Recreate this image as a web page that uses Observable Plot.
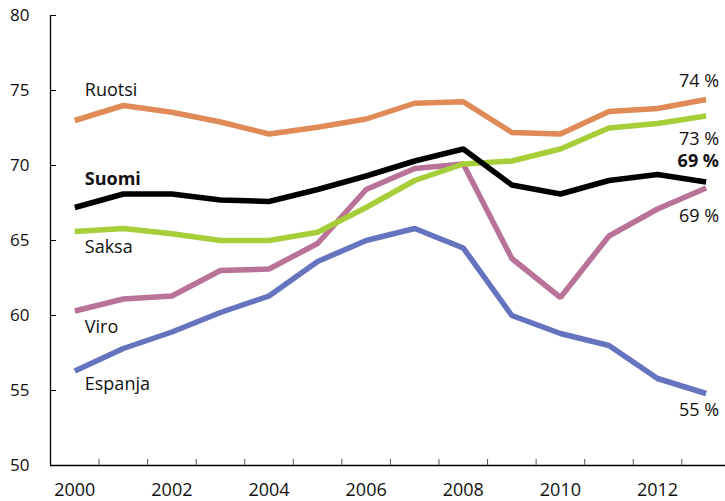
<!DOCTYPE html>
<html>
<head>
<meta charset="utf-8">
<script src="https://cdn.jsdelivr.net/npm/d3@7"></script>
<script src="https://cdn.jsdelivr.net/npm/@observablehq/plot@0.6"></script>
<style>
  html, body { margin: 0; padding: 0; background: #fff; }
  #chart svg { display: block; }
</style>
</head>
<body>
<div id="chart"></div>
<script>
const years = [2000, 2001, 2002, 2003, 2004, 2005, 2006, 2007, 2008, 2009, 2010, 2011, 2012, 2013];
const seriesNames = ["Espanja", "Viro", "Saksa", "Ruotsi", "Suomi"];
const ruotsi  = [73.0, 74.0, 73.55, 72.9, 72.1, 72.55, 73.1, 74.15, 74.25, 72.2, 72.1, 73.6, 73.8, 74.4];
const suomi   = [67.2, 68.1, 68.1, 67.7, 67.6, 68.4, 69.3, 70.3, 71.1, 68.7, 68.1, 69.0, 69.4, 68.9];
const saksa   = [65.6, 65.8, 65.45, 65.0, 65.0, 65.55, 67.2, 69.0, 70.1, 70.3, 71.1, 72.5, 72.8, 73.3];
const viro    = [60.3, 61.1, 61.3, 63.0, 63.1, 64.8, 68.4, 69.8, 70.1, 63.8, 61.2, 65.3, 67.1, 68.5];
const espanja = [56.3, 57.8, 58.9, 60.2, 61.3, 63.6, 65.0, 65.8, 64.5, 60.0, 58.8, 58.0, 55.8, 54.8];
const endLabels = ["55 %", "69 %", "73 %", "74 %", "69 %"];
const xTickLabels = [2000, 2002, 2004, 2006, 2008, 2010, 2012];
const yTickLabels = [50, 55, 60, 65, 70, 75, 80];

const valuesByName = {Ruotsi: ruotsi, Suomi: suomi, Saksa: saksa, Viro: viro, Espanja: espanja};
const colors = {Ruotsi: "#e08a57", Suomi: "#000000", Saksa: "#a6ce39", Viro: "#b87396", Espanja: "#6674bf"};
// label offsets (px) relative to first / last points
const startDy = {Ruotsi: -30, Suomi: -28, Saksa: 16, Viro: 16, Espanja: 13};
const endDy = {Ruotsi: -18, Suomi: -21, Saksa: 23, Viro: 28, Espanja: 17};

const rows = seriesNames.flatMap((name) =>
  years.map((year, i) => ({name, year, value: valuesByName[name][i]}))
);
const boundaries = years.slice(0, -1).map((y) => y + 0.5);

const font = "'Open Sans', 'Noto Sans', sans-serif";
const marks = [];

// axis frame
marks.push(Plot.ruleX([years[0] - 0.5], {stroke: "#000", strokeWidth: 1.3}));
marks.push(Plot.ruleY([yTickLabels[0]], {stroke: "#000", strokeWidth: 1.3}));
// inward ticks
marks.push(Plot.tickY(yTickLabels, {y: (d) => d, stroke: "#000", strokeWidth: 1, insetRight: 669}));
marks.push(Plot.tickX(boundaries, {x: (d) => d, stroke: "#555", strokeWidth: 1, insetTop: 444}));
// tick labels
marks.push(Plot.axisY({ticks: yTickLabels, tickSize: 0, tickPadding: 21, fontSize: 17, label: null}));
marks.push(Plot.axisX({ticks: xTickLabels, tickSize: 0, tickPadding: 18, fontSize: 18, label: null, tickFormat: (d) => String(d)}));

for (const name of seriesNames) {
  const data = rows.filter((r) => r.name === name);
  marks.push(Plot.line(data, {x: "year", y: "value", stroke: colors[name], strokeWidth: 5.5, strokeLinejoin: "miter", strokeLinecap: "butt"}));
}
for (const [i, name] of seriesNames.entries()) {
  const data = rows.filter((r) => r.name === name);
  const bold = name === "Suomi";
  marks.push(Plot.text([data[0]], {
    x: "year", y: "value", text: () => name, textAnchor: "start", dx: 10, dy: startDy[name],
    fontSize: 18, fontWeight: bold ? "bold" : "normal", fill: "#111"
  }));
  marks.push(Plot.text([data[data.length - 1]], {
    x: "year", y: "value", text: () => endLabels[i], textAnchor: "end", dx: 13, dy: endDy[name],
    fontSize: 18, fontWeight: bold ? "bold" : "normal", fill: "#111"
  }));
}

const chart = Plot.plot({
  width: 725,
  height: 501,
  marginLeft: 50,
  marginRight: 0,
  marginTop: 15,
  marginBottom: 36,
  style: {fontFamily: font, color: "#111", background: "#fff"},
  x: {domain: [1999.5, 2013.4]},
  y: {domain: [50, 80]},
  marks
});
document.getElementById("chart").appendChild(chart);
</script>
</body>
</html>
